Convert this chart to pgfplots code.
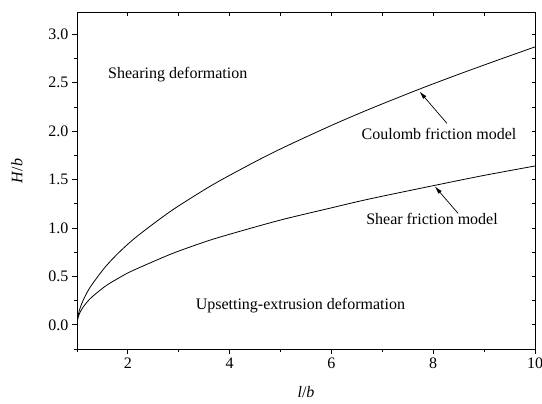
\documentclass[border=0pt]{standalone}
\usepackage{fontspec}
\setmainfont{Liberation Serif}
\usepackage{pgfplots}
\pgfplotsset{compat=1.18}
\usetikzlibrary{arrows.meta}

% H/b against l/b for the two friction models
\pgfplotstableread{
x      y
1.00   0.000
1.02   0.092
1.06   0.171
1.12   0.252
1.20   0.336
1.30   0.420
1.56   0.600
1.85   0.760
2.20   0.922
2.83   1.169
3.42   1.368
3.81   1.489
4.50   1.684
5.09   1.839
6.00   2.059
6.76   2.230
7.71   2.430
8.50   2.587
9.25   2.730
10.00  2.870
}\coulomb

\pgfplotstableread{
x      y
1.00   0.000
1.02   0.073
1.06   0.128
1.12   0.182
1.20   0.236
1.30   0.290
1.56   0.400
1.85   0.492
2.08   0.556
2.83   0.727
3.42   0.840
3.81   0.906
4.50   1.010
5.09   1.094
6.00   1.208
6.76   1.301
8.03   1.440
9.00   1.543
10.00  1.640
}\shear

\newcommand{\lbl}{\fontsize{16bp}{19bp}\selectfont}

\begin{document}
\begin{tikzpicture}
\pgfplotsset{
  frame/.style={
    width=458bp, height=336bp, scale only axis,
    xmin=1, xmax=10, ymin=-0.25, ymax=3.22,
    xtick={2,4,6,8,10}, minor xtick={1,3,5,7,9},
    ytick={0,0.5,1,1.5,2,2.5,3},
    minor ytick={-0.25,0.25,0.75,1.25,1.75,2.25,2.75,3.25},
    axis line style={line width=1bp},
    every tick/.style={black, line width=0.8bp},
  }
}
\begin{axis}[frame,
  tick align=outside, xtick pos=left, ytick pos=left,
  major tick length=5bp, minor tick length=3bp,
  /pgf/number format/assume math mode=true,
  tick label style={font=\lbl},
  y tick label style={/pgf/number format/fixed,
    /pgf/number format/fixed zerofill, /pgf/number format/precision=1},
  xlabel={\textit{l}/\textit{b}}, ylabel={\textit{H}/\textit{b}},
  label style={font=\lbl},
  xlabel style={at={(axis description cs:0.5,-0.128)}, anchor=center},
  ylabel style={at={(axis description cs:-0.131,0.53)}, anchor=center},
]
\addplot[black, line width=0.8bp, smooth, tension=0.5] table[x=x,y=y] {\coulomb};
\addplot[black, line width=0.8bp, smooth, tension=0.5] table[x=x,y=y] {\shear};

\node[anchor=west, font=\lbl, inner sep=0pt] at (axis cs:1.61,2.58) {Shearing deformation};
\node[anchor=west, font=\lbl, inner sep=0pt] at (axis cs:6.59,1.97) {Coulomb friction model};
\node[anchor=west, font=\lbl, inner sep=0pt] at (axis cs:6.68,1.09) {Shear friction model};
\node[anchor=west, font=\lbl, inner sep=0pt] at (axis cs:3.33,0.20) {Upsetting-extrusion deformation};

\draw[line width=0.7bp, -{Latex[length=8bp,width=4.2bp]}]
  (axis cs:8.27,2.08) -- (axis cs:7.73,2.41);
\draw[line width=0.7bp, -{Latex[length=8bp,width=4.2bp]}]
  (axis cs:8.49,1.15) -- (axis cs:8.03,1.43);
\end{axis}
\begin{axis}[frame,
  tick align=inside, xtick pos=right, ytick pos=right,
  major tick length=3.5bp, minor tick length=3bp,
  xticklabels={}, yticklabels={},
]
\end{axis}
\pgfresetboundingbox
\path ([shift={(-77bp,-54bp)}]current axis.south west) rectangle ([shift={(7bp,13bp)}]current axis.north east);
\end{tikzpicture}
\end{document}
